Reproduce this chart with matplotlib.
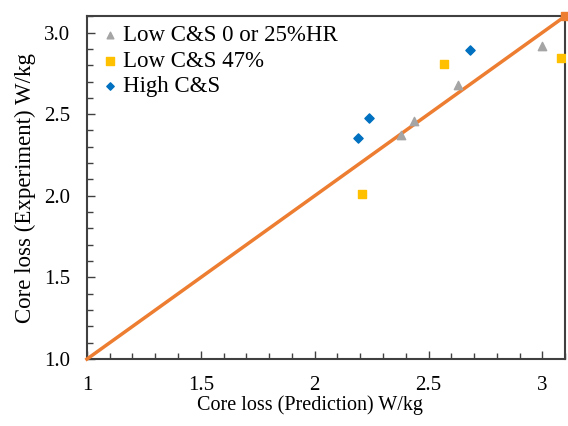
import matplotlib
matplotlib.use("Agg")
import matplotlib.pyplot as plt
from matplotlib.ticker import MultipleLocator

# Data
tri_pred = [2.38, 2.435, 2.63, 3.0]
tri_exp = [2.37, 2.46, 2.68, 2.92]

sq_pred = [2.21, 2.57, 3.08]
sq_exp = [2.01, 2.81, 2.845]

dia_pred = [2.19, 2.24, 2.68]
dia_exp = [2.355, 2.475, 2.895]

line_xy = [1.0, 3.1]

plt.rcParams['font.family'] = ['Liberation Serif', 'DejaVu Serif']

fig = plt.figure(figsize=(5.68, 4.26), dpi=100)
ax = fig.add_axes([0.153, 0.157, 0.842, 0.805])

ax.plot(line_xy, line_xy, color='#ED7D31', lw=2.5, marker='s', ms=6,
        markevery=[1], clip_on=False, zorder=3)
ax.scatter(tri_pred, tri_exp, marker='^', s=36, color='#A5A5A5',
           label='Low C&S 0 or 25%HR', zorder=4)
ax.scatter(sq_pred, sq_exp, marker='s', s=40, color='#FFC000',
           label='Low C&S 47%', zorder=4)
ax.scatter(dia_pred, dia_exp, marker='D', s=22, color='#0070C0',
           label='High C&S', zorder=4)

ax.set_xlim(1, 3.1)
ax.set_ylim(1, 3.1)
ax.xaxis.set_major_locator(MultipleLocator(0.5))
ax.xaxis.set_minor_locator(MultipleLocator(0.1))
ax.yaxis.set_major_locator(MultipleLocator(0.5))
ax.yaxis.set_minor_locator(MultipleLocator(0.1))
ax.xaxis.set_major_formatter(plt.FuncFormatter(lambda v, p: f"{v:g}"))
ax.yaxis.set_major_formatter(plt.FuncFormatter(lambda v, p: f"{v:.1f}"))

ax.tick_params(which='both', direction='in', top=False, right=False,
               color='#404040', labelsize=15, width=1)
ax.tick_params(which='major', length=6, pad=12)
ax.tick_params(which='minor', length=4)
for s in ax.spines.values():
    s.set_color('#404040')
    s.set_linewidth(1.5)

ax.set_xlabel('Core loss (Prediction) W/kg', fontsize=14.5, labelpad=0, x=0.467)
ax.set_ylabel('Core loss (Experiment) W/kg', fontsize=16.5, labelpad=6)

ax.legend(loc='upper left', bbox_to_anchor=(0.006, 1.0), frameon=False,
          fontsize=16.5, handletextpad=0.05, handlelength=1.0,
          borderaxespad=0.0, labelspacing=0.18, markerscale=0.8)

fig.savefig('out.png', dpi=100)
